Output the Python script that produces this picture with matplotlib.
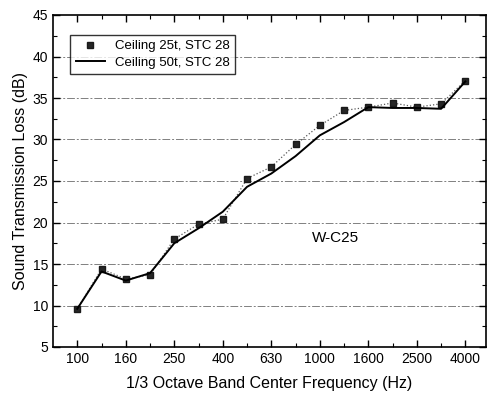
import numpy as np
import matplotlib
matplotlib.use("Agg")
import matplotlib.pyplot as plt
from matplotlib.ticker import MultipleLocator

plt.rcParams['font.family'] = ['Liberation Sans', 'DejaVu Sans']

bands = ['100', '125', '160', '200', '250', '315', '400', '500', '630', '800',
         '1000', '1250', '1600', '2000', '2500', '3150', '4000']
ceiling_25t = [9.6, 14.4, 13.2, 13.7, 18.0, 19.8, 20.4, 25.3, 26.7, 29.4,
               31.7, 33.5, 33.9, 34.4, 33.9, 34.3, 37.1]
ceiling_50t = [9.6, 14.1, 13.0, 13.9, 17.5, 19.3, 21.3, 24.3, 25.9, 28.0,
               30.5, 32.1, 33.9, 33.8, 33.8, 33.7, 37.0]
grid_levels = [10, 15, 20, 25, 30, 35, 40]

x = np.arange(len(bands))

fig = plt.figure(figsize=(4.87, 3.93), dpi=100)
ax = fig.add_axes([53 / 487, 1 - 347 / 393, 433 / 487, 332 / 393])

for g in grid_levels:
    ax.axhline(g, color='0.5', lw=0.7, ls=(0, (8, 2, 2, 2)), zorder=0)

ax.plot(x, ceiling_25t, ls=':', color='0.35', lw=0.9, marker='s', ms=5,
        mfc='0.15', mec='0.1', label='Ceiling 25t, STC 28')
ax.plot(x, ceiling_50t, '-', color='black', lw=1.4, label='Ceiling 50t, STC 28')

ax.set_xlim(-1, 16.85)
ax.set_ylim(5, 45)
ax.set_xticks(x[::2])
ax.set_xticklabels(bands[::2])
ax.set_xticks(x[1::2], minor=True)
ax.yaxis.set_major_locator(MultipleLocator(5))
ax.yaxis.set_minor_locator(MultipleLocator(2.5))
ax.tick_params(which='both', direction='in', top=True, right=True, labelsize=10)
ax.tick_params(which='major', length=5, width=1)
ax.tick_params(which='minor', length=3, width=0.8)
for s in ax.spines.values():
    s.set_linewidth(1.2)

ax.set_xlabel('1/3 Octave Band Center Frequency (Hz)', fontsize=11.5, labelpad=7)
ax.set_ylabel('Sound Transmission Loss (dB)', fontsize=11.5, labelpad=3)

ax.text(10.66, 18.1, 'W-C25', fontsize=11, ha='center', va='center')

leg = ax.legend(loc='upper left', bbox_to_anchor=(0.025, 0.96), fontsize=9.5,
                frameon=True, fancybox=False, edgecolor='black',
                handlelength=2.2, borderpad=0.4, labelspacing=0.3)
leg.get_frame().set_linewidth(1.0)
leg.legend_handles[0].set_linestyle('none')

fig.savefig('out.png', dpi=100)
